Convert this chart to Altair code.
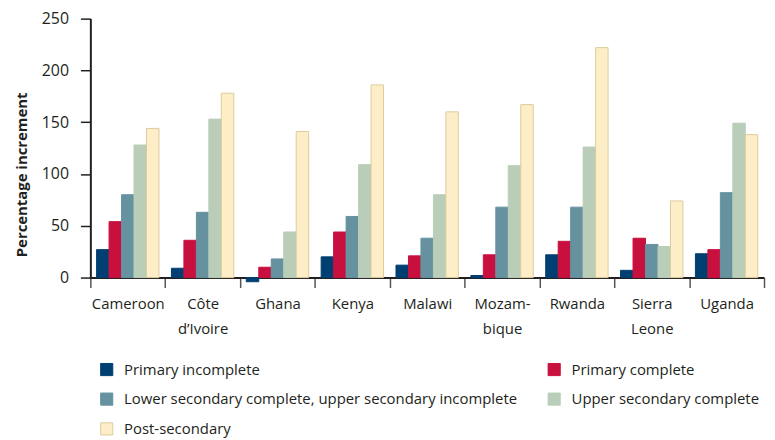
import json
import altair as alt
import pandas as pd

countries = ["Cameroon", "Côte d’Ivoire", "Ghana", "Kenya", "Malawi",
             "Mozambique", "Rwanda", "Sierra Leone", "Uganda"]
levels = ["Primary incomplete", "Primary complete",
          "Lower secondary complete, upper secondary incomplete",
          "Upper secondary complete", "Post-secondary"]

primary_incomplete = [27, 9, -4, 20, 12, 2, 22, 7, 23]
primary_complete = [54, 36, 10, 44, 21, 22, 35, 38, 27]
lower_secondary = [80, 63, 18, 59, 38, 68, 68, 32, 82]
upper_secondary = [128, 153, 44, 109, 80, 108, 126, 30, 149]
post_secondary = [144, 178, 141, 186, 160, 167, 222, 74, 138]

y_ticks = [0, 50, 100, 150, 200, 250]

fill_colors = ["#003f72", "#c8103f", "#6692a0", "#b9cdb8", "#fdeec8"]
stroke_colors = ["#003f72", "#c8103f", "#6692a0", "#b9cdb8", "#dccb9c"]

label_lines = {"Côte d’Ivoire": ["Côte", "d’Ivoire"],
               "Mozambique": ["Mozam-", "bique"],
               "Sierra Leone": ["Sierra", "Leone"]}

series = [primary_incomplete, primary_complete, lower_secondary,
          upper_secondary, post_secondary]
rows = []
for i, c in enumerate(countries):
    for lv, vals in zip(levels, series):
        rows.append({"country": c, "level": lv, "value": vals[i]})
df = pd.DataFrame(rows)

expr = "datum.label"
for k, v in reversed(list(label_lines.items())):
    expr = f"datum.label == {json.dumps(k, ensure_ascii=False)} ? {json.dumps(v, ensure_ascii=False)} : ({expr})"

FONT = "Open Sans"

chart = alt.Chart(df).mark_bar(strokeWidth=1).encode(
    x=alt.X("country:N", sort=countries, title=None,
            scale=alt.Scale(paddingInner=0, paddingOuter=0),
            axis=alt.Axis(labelAngle=0, tickBand="extent", tickSize=10,
                          grid=False,
                          labelExpr=expr, labelFontSize=15, labelFont=FONT,
                          labelColor="#231f20", labelPadding=9,
                          labelLineHeight=25, labelBaseline="top",
                          domainColor="#231f20", domainWidth=2,
                          tickColor="#555555", tickWidth=1.5)),
    xOffset=alt.XOffset("level:N", sort=levels,
                        scale=alt.Scale(paddingInner=0, paddingOuter=0.5)),
    y=alt.Y("value:Q", title="Percentage increment",
            scale=alt.Scale(domain=[0, 250], nice=False),
            axis=alt.Axis(values=y_ticks, tickSize=10, labelPadding=12,
                          grid=False,
                          labelFontSize=16, labelFont=FONT, labelColor="#231f20",
                          domainColor="#231f20", domainWidth=2,
                          tickColor="#231f20", tickWidth=1.5,
                          titleFont=FONT, titleFontSize=15, titleFontWeight="bold",
                          titleColor="#231f20", titleAngle=270,
                          titleX=-69, titleY=157, titleAlign="center",
                          titleBaseline="middle")),
    fill=alt.Fill("level:N", sort=levels, title=None,
                  scale=alt.Scale(domain=levels, range=fill_colors)),
    stroke=alt.Stroke("level:N", sort=levels, title=None,
                      scale=alt.Scale(domain=levels, range=stroke_colors)),
).properties(
    width=679, height=261,
    autosize=alt.AutoSizeParams(type="none"),
    padding={"left": 83, "top": 9, "right": 3, "bottom": 163},
).configure_view(stroke=None).configure_legend(
    orient="none", legendX=9, legendY=346, columns=2, columnPadding=28,
    direction="horizontal",
    rowPadding=13, symbolType="square", symbolSize=150, symbolStrokeWidth=1,
    labelFont=FONT, labelFontSize=15, labelColor="#231f20", labelOffset=10,
    labelLimit=600,
)

chart.save("out.html", embed_options={"renderer": "svg", "actions": False})
